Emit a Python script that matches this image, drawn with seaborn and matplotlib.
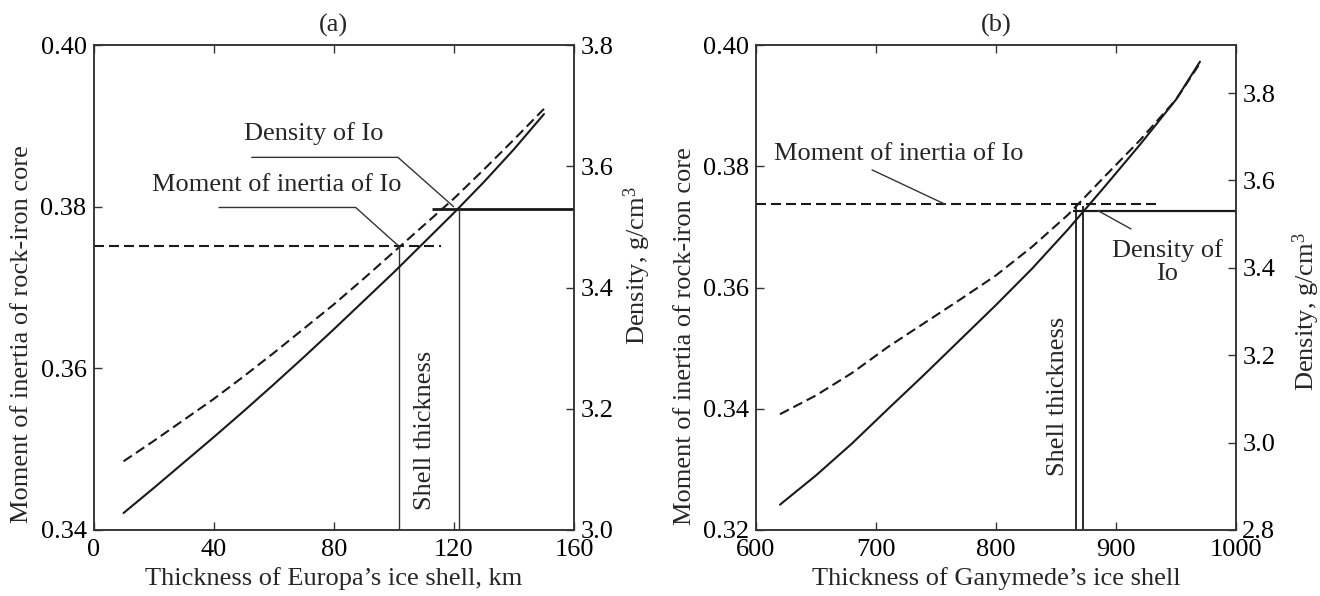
import matplotlib
matplotlib.use("Agg")
import matplotlib.pyplot as plt
import seaborn as sns
import pandas as pd
from matplotlib.ticker import FixedLocator, FormatStrFormatter

# ---------------- data ----------------
# Panel (a): Europa
europa_thickness = [10, 20, 30, 40, 50, 60, 70, 80, 90, 100, 110, 120, 130, 140, 150]
europa_moi = [0.3485, 0.3510, 0.3536, 0.3562, 0.3590, 0.3619, 0.3649, 0.3679,
              0.3711, 0.3744, 0.3777, 0.3810, 0.3846, 0.3883, 0.3921]
europa_density = [3.028, 3.069, 3.111, 3.153, 3.196, 3.240, 3.285, 3.331,
                  3.378, 3.425, 3.474, 3.523, 3.574, 3.628, 3.686]

# Panel (b): Ganymede
ganymede_thickness = [620, 650, 680, 710, 740, 770, 800, 830, 860, 890, 920, 950, 970]
ganymede_moi = [0.3391, 0.3422, 0.3459, 0.3502, 0.3541, 0.3580, 0.3620, 0.3667,
                0.3720, 0.3782, 0.3843, 0.3910, 0.3970]
ganymede_density = [2.858, 2.925, 2.998, 3.077, 3.155, 3.235, 3.315, 3.398,
                    3.488, 3.584, 3.682, 3.785, 3.872]

# Io reference values and resulting shell thicknesses
io_moi_a, io_density_a = 0.3751, 3.530
shell_a_moi, shell_a_density = 101.7, 121.6
io_moi_b, io_density_b = 0.3737, 3.531
shell_b_moi, shell_b_density = 867.0, 872.5

# tick values
xticks_a = [0, 40, 80, 120, 160]
yticks_a_left = [0.34, 0.36, 0.38, 0.40]
yticks_a_right = [3.0, 3.2, 3.4, 3.6, 3.8]
xticks_b = [600, 700, 800, 900, 1000]
yticks_b_left = [0.32, 0.34, 0.36, 0.38, 0.40]
yticks_b_right = [2.8, 3.0, 3.2, 3.4, 3.6, 3.8]

# ---------------- style ----------------
sns.set_theme(style="ticks")
plt.rcParams['font.family'] = ['Liberation Serif', 'DejaVu Serif']
plt.rcParams['mathtext.fontset'] = 'custom'
plt.rcParams['mathtext.rm'] = 'Liberation Serif'
plt.rcParams['mathtext.it'] = 'Liberation Serif:italic'
plt.rcParams['axes.edgecolor'] = '#333333'
plt.rcParams['axes.linewidth'] = 1.1

FS = 19
CURVE = '#1a1a1a'
THIN = '#333333'
DASH = (0, (4.8, 2.4))

W, H = 1320, 596
fig = plt.figure(figsize=(W / 100, H / 100), dpi=100)
ax_a = fig.add_axes([93.5 / W, 66 / H, 480.5 / W, 485 / H])
ax_b = fig.add_axes([756 / W, 66 / H, 480 / W, 485 / H])


def style_axes(ax, axr, xticks, yl, yr):
    ax.set_xlim(xticks[0], xticks[-1])
    ax.xaxis.set_major_locator(FixedLocator(xticks))
    ax.yaxis.set_major_locator(FixedLocator(yl))
    ax.yaxis.set_major_formatter(FormatStrFormatter('%.2f'))
    axr.yaxis.set_major_locator(FixedLocator(yr))
    axr.yaxis.set_major_formatter(FormatStrFormatter('%.1f'))
    ax.tick_params(axis='x', direction='in', length=6, width=1, labelsize=FS,
                   pad=6.5, top=True, bottom=True, labeltop=False, colors='#333333',
                   labelcolor='black')
    ax.tick_params(axis='y', direction='in', length=6, width=1, labelsize=FS,
                   pad=5, left=True, right=False, colors='#333333', labelcolor='black')
    axr.tick_params(axis='y', direction='in', length=6, width=1, labelsize=FS,
                    pad=4.5, left=False, right=True, colors='#333333', labelcolor='black')
    for sp in ax.spines.values():
        sp.set_visible(True)
    for sp in axr.spines.values():
        sp.set_visible(True)


# ---------------- panel (a) ----------------
axr_a = ax_a.twinx()
df_a = pd.DataFrame({'thickness': europa_thickness, 'moi': europa_moi,
                     'density': europa_density})
sns.lineplot(data=df_a, x='thickness', y='moi', ax=ax_a, color=CURVE,
             linewidth=1.5, linestyle=DASH)
sns.lineplot(data=df_a, x='thickness', y='density', ax=axr_a, color=CURVE,
             linewidth=1.5)
ax_a.set_ylim(0.34, 0.40)
axr_a.set_ylim(3.0, 3.8)
style_axes(ax_a, axr_a, xticks_a, yticks_a_left, yticks_a_right)

ax_a.hlines(io_moi_a, 0, 115.7, colors=CURVE, linewidth=1.5, linestyles=DASH)
axr_a.hlines(io_density_a, 112.8, 160, colors=CURVE, linewidth=2.0)
ax_a.vlines(shell_a_moi, 0.34, io_moi_a, colors=THIN, linewidth=1.0)
axr_a.vlines(shell_a_density, 3.0, io_density_a, colors=THIN, linewidth=1.0)

ax_a.plot([52.7, 101.4, 119.9], [0.3861, 0.3861, 0.3800], color=THIN, linewidth=1.0)
ax_a.text(73.3, 0.3891, 'Density of Io', fontsize=FS, ha='center', va='center')
ax_a.plot([41.8, 87.3, shell_a_moi], [0.3799, 0.3799, io_moi_a], color=THIN, linewidth=1.0)
ax_a.text(60.9, 0.3827, 'Moment of inertia of Io', fontsize=FS, ha='center', va='center')
ax_a.text(110.4, 0.3523, 'Shell thickness', fontsize=FS, ha='center', va='center',
          rotation=90)

ax_a.set_xlabel('Thickness of Europa\u2019s ice shell, km', fontsize=FS, labelpad=4)
ax_a.set_ylabel('Moment of inertia of rock-iron core', fontsize=FS, va='center')
ax_a.yaxis.set_label_coords(-0.148, 0.404)
axr_a.set_ylabel('Density, g/cm$^3$', fontsize=FS, va='center')
axr_a.yaxis.set_label_coords(1.131, 0.546)
ax_a.set_title('(a)', fontsize=FS, pad=10)

# ---------------- panel (b) ----------------
axr_b = ax_b.twinx()
df_b = pd.DataFrame({'thickness': ganymede_thickness, 'moi': ganymede_moi,
                     'density': ganymede_density})
sns.lineplot(data=df_b, x='thickness', y='moi', ax=ax_b, color=CURVE,
             linewidth=1.5, linestyle=DASH)
sns.lineplot(data=df_b, x='thickness', y='density', ax=axr_b, color=CURVE,
             linewidth=1.5)
ax_b.set_ylim(0.32, 0.40)
axr_b.set_ylim(2.8, 3.91)
style_axes(ax_b, axr_b, xticks_b, yticks_b_left, yticks_b_right)

ax_b.hlines(io_moi_b, 600, 936.7, colors=CURVE, linewidth=1.5, linestyles=DASH)
axr_b.hlines(io_density_b, 863.8, 1000, colors=CURVE, linewidth=1.6)
ax_b.vlines(shell_b_moi, 0.32, io_moi_b, colors=CURVE, linewidth=1.3)
axr_b.vlines(shell_b_density, 2.8, io_density_b + 0.01, colors=CURVE, linewidth=1.3)

ax_b.plot([696.7, 757.9], [0.3794, io_moi_b], color=THIN, linewidth=1.0)
ax_b.text(719.1, 0.3821, 'Moment of inertia of Io', fontsize=FS, ha='center', va='center')
axr_b.plot([884.9, 912.5], [io_density_b, 3.489], color=THIN, linewidth=1.0)
axr_b.text(942.5, 3.414, 'Density of\nIo', fontsize=FS, ha='center', va='center',
           linespacing=1.05, multialignment='center')
ax_b.text(851.6, 0.342, 'Shell thickness', fontsize=FS, ha='center', va='center',
          rotation=90)

ax_b.set_xlabel('Thickness of Ganymede\u2019s ice shell', fontsize=FS, labelpad=4)
ax_b.set_ylabel('Moment of inertia of rock-iron core', fontsize=FS, va='center')
ax_b.yaxis.set_label_coords(-0.148, 0.400)
axr_b.set_ylabel('Density, g/cm$^3$', fontsize=FS, va='center')
axr_b.yaxis.set_label_coords(1.146, 0.450)
ax_b.set_title('(b)', fontsize=FS, pad=10)

fig.savefig('out.png', dpi=100)
